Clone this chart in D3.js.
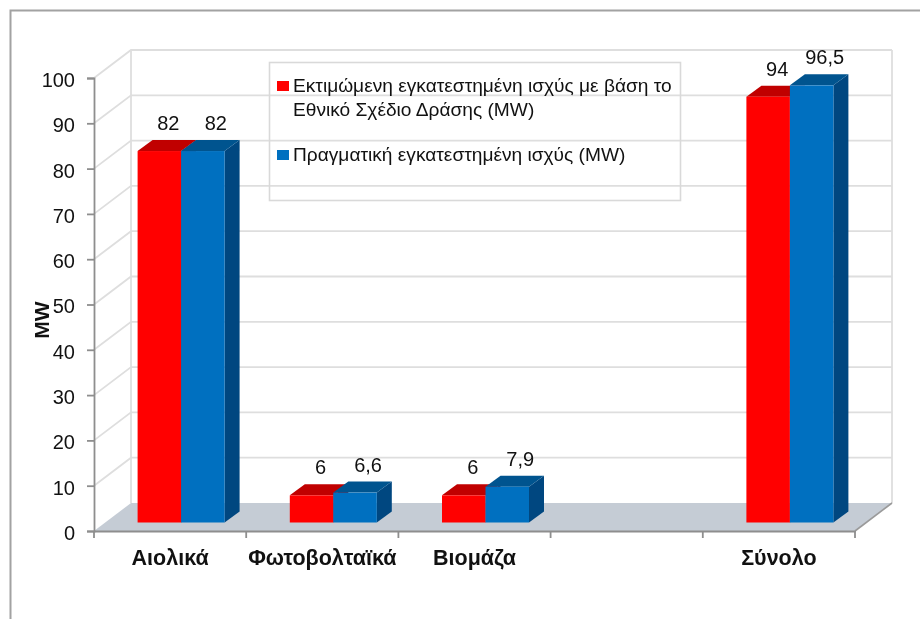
<!DOCTYPE html>
<html>
<head>
<meta charset="utf-8">
<script src="https://cdn.jsdelivr.net/npm/d3@7"></script>
<style>
  html, body { margin: 0; padding: 0; background: #fff; }
  svg { display: block; filter: blur(0.45px); }
  text { font-family: "Liberation Sans", Arial, sans-serif; fill: #111; }
</style>
</head>
<body>
<svg id="chart" width="920" height="619"></svg>
<script>
var categories = ['Αιολικά', 'Φωτοβολταϊκά', 'Βιομάζα', '', 'Σύνολο'];
var planned = [82, 6, 6, null, 94];
var actual = [82, 6.6, 7.9, null, 96.5];
var seriesNames = [
  ['Εκτιμώμενη εγκατεστημένη ισχύς με βάση το', 'Εθνικό Σχέδιο Δράσης (MW)'],
  ['Πραγματική εγκατεστημένη ισχύς (MW)']
];
var yTicks = d3.range(0, 101, 10);

var svg = d3.select('#chart');

var x = d3.scaleBand().domain(d3.range(categories.length)).range([94, 855]);
var y = d3.scaleLinear().domain([0, 100]).range([531, 78]);

// depth of the plot box and of the bars
var wallDx = 37, wallDy = -28;
var barOffX = 11, barOffY = -8.5, barDx = 15, barDy = -11;
var barW = 43.5;
var labelShift = [9, 13];
var gridColor = '#dedede';

var colors = [
  { front: '#ff0000', top: '#c00000', side: '#a00000' },
  { front: '#0070c0', top: '#00548f', side: '#004780' }
];

// outer frame
svg.append('path')
  .attr('d', 'M10.5,619V10.5H920')
  .attr('fill', 'none')
  .attr('stroke', '#a2a2a2')
  .attr('stroke-width', 2);

// floor
svg.append('polygon')
  .attr('points', [
    [x.range()[0], y(0)],
    [x.range()[0] + wallDx, y(0) + wallDy],
    [x.range()[1] + wallDx, y(0) + wallDy],
    [x.range()[1], y(0)]
  ].join(' '))
  .attr('fill', '#c5ccd5');

// walls
var grid = svg.append('g')
  .attr('fill', 'none')
  .attr('stroke', gridColor)
  .attr('stroke-width', 1.8);

grid.selectAll('path.row')
  .data(yTicks)
  .enter().append('path')
  .attr('class', 'row')
  .attr('d', function (d) {
    var back = y(d) + wallDy;
    return 'M' + x.range()[0] + ',' + y(d) +
      'L' + (x.range()[0] + wallDx) + ',' + back +
      'H' + (x.range()[1] + wallDx);
  })
  .attr('display', function (d) { return d === 0 ? 'none' : null; });

grid.append('path')
  .attr('d', 'M' + (x.range()[0] + wallDx) + ',' + (y(0) + wallDy) + 'V' + (y(100) + wallDy));
grid.append('path')
  .attr('d', 'M' + (x.range()[1] + wallDx) + ',' + (y(0) + wallDy) + 'V' + (y(100) + wallDy));

// floor edge on the right
svg.append('path')
  .attr('d', 'M' + x.range()[1] + ',' + y(0) + 'L' + (x.range()[1] + wallDx) + ',' + (y(0) + wallDy))
  .attr('fill', 'none')
  .attr('stroke', '#9a9a9a')
  .attr('stroke-width', 1.6);

// axes
var yAxis = d3.axisLeft(y).tickValues(yTicks).tickSize(7).tickPadding(12);
var yG = svg.append('g')
  .attr('transform', 'translate(' + x.range()[0] + ',0)')
  .call(yAxis);
yG.selectAll('text')
  .attr('font-size', 20)
  .attr('font-family', '"Liberation Sans"')
  .attr('fill', '#222')
  .attr('dy', '0.42em');

var xAxis = d3.axisBottom(x).tickValues([]).tickSizeOuter(0);
var xG = svg.append('g')
  .attr('transform', 'translate(0,' + y(0) + ')')
  .call(xAxis);

var xTicks = d3.range(categories.length + 1).map(function (i) { return x.range()[0] + i * x.bandwidth(); });
xG.selectAll('line.edge')
  .data(xTicks)
  .enter().append('line')
  .attr('class', 'edge')
  .attr('x1', function (d) { return d; })
  .attr('x2', function (d) { return d; })
  .attr('y2', 7);

svg.selectAll('.domain, .tick line, line.edge')
  .attr('stroke', '#8e8e8e')
  .attr('stroke-width', 1.8);

// category labels
svg.append('g').selectAll('text')
  .data(categories)
  .enter().append('text')
  .attr('x', function (d, i) { return x(i) + x.bandwidth() / 2; })
  .attr('y', 565)
  .attr('text-anchor', 'middle')
  .attr('font-size', 21.5)
  .attr('font-weight', 'bold')
  .text(function (d) { return d; });

svg.append('text')
  .attr('transform', 'translate(49,320) rotate(-90)')
  .attr('text-anchor', 'middle')
  .attr('font-size', 21)
  .attr('font-weight', 'bold')
  .text('MW');

// bars, drawn red then blue so blue top overlaps the red side
function drawBar(g, value, i, s) {
  if (value === null) return;
  var x0 = x(i) + x.bandwidth() / 2 + barOffX + (s - 1) * barW;
  var x1 = x0 + barW;
  var yBase = y(0) + barOffY;
  var yTop = y(value) + barOffY;
  var c = colors[s];

  g.append('polygon')
    .attr('points', [[x1, yTop], [x1 + barDx, yTop + barDy], [x1 + barDx, yBase + barDy], [x1, yBase]].join(' '))
    .attr('fill', c.side);
  g.append('polygon')
    .attr('points', [[x0, yTop], [x0 + barDx, yTop + barDy], [x1 + barDx, yTop + barDy], [x1, yTop]].join(' '))
    .attr('fill', c.top);
  g.append('rect')
    .attr('x', x0)
    .attr('y', yTop)
    .attr('width', barW)
    .attr('height', yBase - yTop)
    .attr('fill', c.front);

  g.append('text')
    .attr('x', (x0 + x1) / 2 + labelShift[s])
    .attr('y', yTop + barDy - 10)
    .attr('text-anchor', 'middle')
    .attr('font-size', 20)
    .attr('fill', '#222')
    .text(String(value).replace('.', ','));
}

var bars = svg.append('g');
planned.forEach(function (v, i) { drawBar(bars, v, i, 0); });
actual.forEach(function (v, i) { drawBar(bars, v, i, 1); });

// legend
var legend = svg.append('g');
legend.append('rect')
  .attr('x', 269.5)
  .attr('y', 62.5)
  .attr('width', 411)
  .attr('height', 138)
  .attr('fill', 'none')
  .attr('stroke', '#d9d9d9')
  .attr('stroke-width', 1.6);

var legendTop = [81, 150];
seriesNames.forEach(function (lines, s) {
  legend.append('rect')
    .attr('x', 277)
    .attr('y', legendTop[s])
    .attr('width', 12)
    .attr('height', 10)
    .attr('fill', colors[s].front);
  lines.forEach(function (line, k) {
    legend.append('text')
      .attr('x', 293)
      .attr('y', legendTop[s] + 11 + k * 23.5)
      .attr('font-size', 19.15)
      .attr('fill', '#1a1a1a')
      .text(line);
  });
});
</script>
</body>
</html>
